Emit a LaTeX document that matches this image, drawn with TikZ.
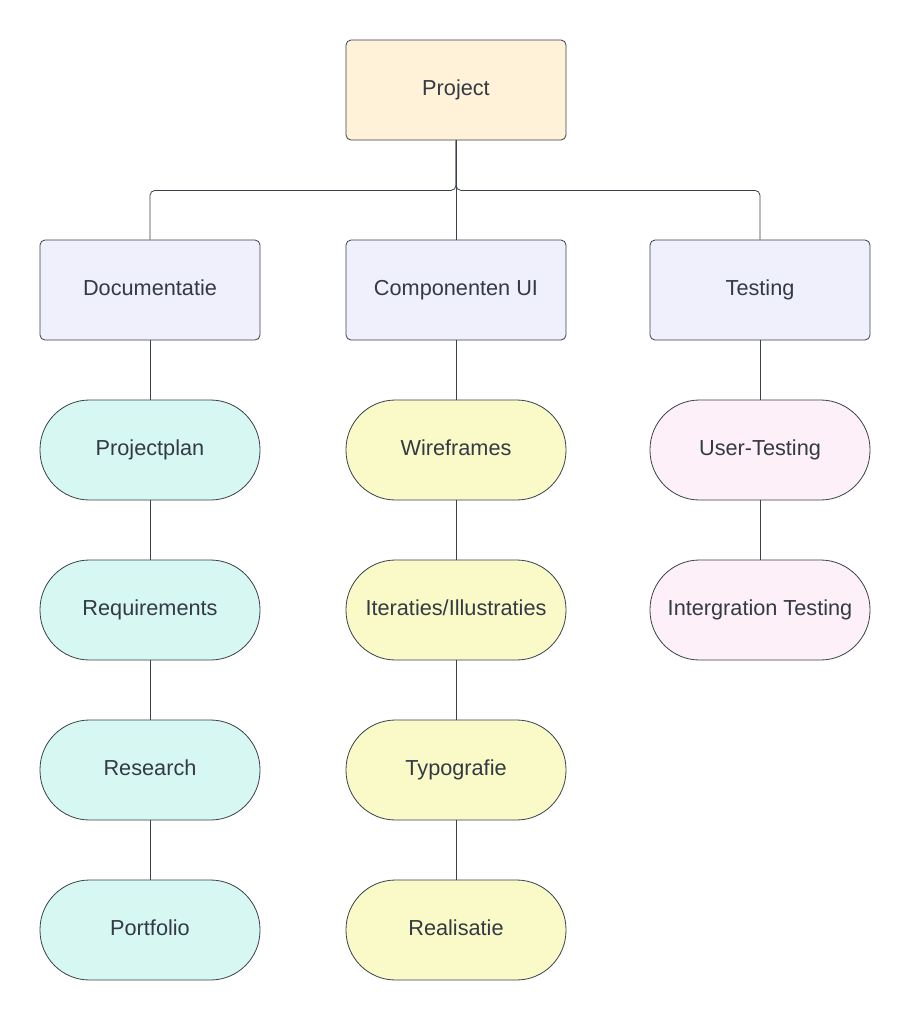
\documentclass[tikz,border=0pt]{standalone}
\usepackage{fontspec}
\setmainfont{Liberation Sans}
\definecolor{edge}{HTML}{3A414A}
\definecolor{txt}{HTML}{333A44}
\definecolor{topfill}{HTML}{FFF2D9}
\definecolor{midfill}{HTML}{F0F0FC}
\definecolor{teal}{HTML}{D7F8F2}
\definecolor{yell}{HTML}{FAFAC8}
\definecolor{pink}{HTML}{FEF0F8}
\begin{document}
\begin{tikzpicture}[x=1pt,y=-1pt,
  common/.style={draw=edge,line width=0.8pt,minimum width=220pt,minimum height=100pt,inner sep=0pt,text=txt,font=\fontsize{21.7}{26}\selectfont,text height=16pt,text depth=6pt},
  box/.style={common,rounded corners=5pt},
  pill/.style={common,rounded corners=49.5pt},
  conn/.style={draw=edge,line width=0.8pt,rounded corners=5pt}]
\useasboundingbox (0,0) rectangle (911,1020);
\fill[white] (0,0) rectangle (911,1020);
\node[box,fill=topfill] (proj) at (456,90) {Project};
\node[box,fill=midfill] (doc) at (150,290) {Documentatie};
\node[box,fill=midfill] (comp) at (456,290) {Componenten UI};
\node[box,fill=midfill] (test) at (760,290) {Testing};
\node[pill,fill=teal] (pp) at (150,450) {Projectplan};
\node[pill,fill=teal] (req) at (150,610) {Requirements};
\node[pill,fill=teal] (res) at (150,770) {Research};
\node[pill,fill=teal] (port) at (150,930) {Portfolio};
\node[pill,fill=yell] (wire) at (456,450) {Wireframes};
\node[pill,fill=yell] (iter) at (456,610) {Iteraties/Illustraties};
\node[pill,fill=yell] (typo) at (456,770) {Typografie};
\node[pill,fill=yell] (real) at (456,930) {Realisatie};
\node[pill,fill=pink] (ut) at (760,450) {User-Testing};
\node[pill,fill=pink] (it) at (760,610) {Intergration Testing};
\draw[conn] (proj.south) -- ++(0,50) -| (doc.north);
\draw[conn] (proj.south) -- ++(0,50) -| (test.north);
\draw[conn] (proj.south) -- (comp.north);
\draw[conn] (doc) -- (pp);
\draw[conn] (pp) -- (req);
\draw[conn] (req) -- (res);
\draw[conn] (res) -- (port);
\draw[conn] (comp) -- (wire);
\draw[conn] (wire) -- (iter);
\draw[conn] (iter) -- (typo);
\draw[conn] (typo) -- (real);
\draw[conn] (test) -- (ut);
\draw[conn] (ut) -- (it);
\end{tikzpicture}
\end{document}
